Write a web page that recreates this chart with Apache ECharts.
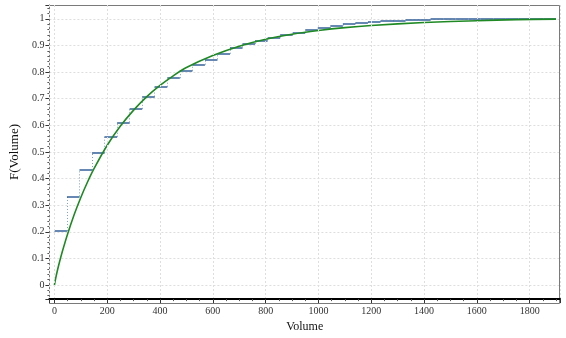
<!DOCTYPE html>
<html>
<head>
<meta charset="utf-8">
<script src="https://cdn.jsdelivr.net/npm/echarts@6/dist/echarts.min.js"></script>
<style>html,body{margin:0;padding:0;background:#fff;}#c{width:566px;height:338px;}</style>
</head>
<body>
<div id="c"></div>
<script>
const binWidth = 47.5;
const stepValues = [
  0.203, 0.333, 0.432, 0.497, 0.557, 0.611, 0.662, 0.708, 0.745, 0.777,
  0.805, 0.828, 0.848, 0.869, 0.893, 0.906, 0.919, 0.930, 0.939, 0.948,
  0.958, 0.965, 0.975, 0.981, 0.985, 0.988, 0.991, 0.994, 0.996, 0.998,
  1.0, 1.0, 1.0, 1.0, 1.0, 1.0, 1.0, 1.0, 1.0, 1.0
];
// Fitted CDF curve
const fitX = [0, 5, 10, 20, 30, 50, 75, 100, 125, 150, 200, 250, 300, 350, 400, 450, 500, 600, 700, 800, 900, 1000, 1100, 1200, 1400, 1600, 1750, 1900];
const fitY = [0, 0.026, 0.049, 0.089, 0.126, 0.192, 0.265, 0.329, 0.386, 0.437, 0.525, 0.597, 0.657, 0.708, 0.750, 0.786, 0.817, 0.862, 0.897, 0.923, 0.942, 0.956, 0.967, 0.975, 0.986, 0.993, 0.997, 0.999];

const xName = 'Volume';
const yName = 'F(Volume)';

const horiz = stepValues.map((v, i) => ({ coords: [[i * binWidth, v], [(i + 1) * binWidth, v]] }));
const vert = [];
for (let i = 1; i < stepValues.length; i++) {
  if (stepValues[i] !== stepValues[i - 1]) {
    vert.push({ coords: [[i * binWidth, stepValues[i - 1]], [i * binWidth, stepValues[i]]] });
  }
}
const fitData = fitX.map((x, i) => [x, fitY[i]]);

const font = "'Liberation Serif', 'DejaVu Serif', serif";
const G = { left: 49, right: 6, top: 5, bottom: 34 };
const chart = echarts.init(document.getElementById('c'), null, { renderer: 'canvas' });
chart.setOption({
  animation: false,
  backgroundColor: '#fff',
  grid: { left: G.left, right: G.right, top: G.top, bottom: G.bottom, show: false },
  graphic: [{
    type: 'rect', z: 100, silent: true,
    shape: { x: G.left + 0.5, y: G.top + 0.5, width: 566 - G.left - G.right - 1, height: 338 - G.top - G.bottom - 1 },
    style: { fill: null, stroke: '#7a7a7a', lineWidth: 1 }
  }],
  xAxis: {
    type: 'value', min: -19, max: 1915, splitNumber: 10,
    name: xName, nameLocation: 'middle', nameGap: 19,
    nameTextStyle: { fontFamily: font, fontSize: 12, color: '#111' },
    axisLine: { show: true, onZero: false, lineStyle: { color: '#000', width: 2 }, z: 110 },
    axisTick: { show: true, inside: false, length: 4, lineStyle: { color: '#333' } },
    minorTick: { show: true, splitNumber: 4, length: 2, lineStyle: { color: '#555' } },
    axisLabel: {
      margin: 7, fontFamily: font, fontSize: 10, color: '#333',
      showMinLabel: false, showMaxLabel: false,
      formatter: v => (Math.abs(v / 200 - Math.round(v / 200)) < 1e-6 ? String(Math.round(v)) : '')
    },
    splitLine: { show: true, lineStyle: { color: '#dedede', type: [2, 2], width: 1 } },
    z: 110
  },
  yAxis: {
    type: 'value', min: -0.053, max: 1.052, splitNumber: 11,
    name: yName, nameLocation: 'middle', nameGap: 23, nameRotate: 90,
    nameTextStyle: { fontFamily: font, fontSize: 13, color: '#111' },
    axisLine: { show: true, onZero: false, lineStyle: { color: '#555', width: 1 } },
    axisTick: { show: true, inside: false, length: 4, lineStyle: { color: '#333' } },
    minorTick: { show: true, splitNumber: 5, length: 2, lineStyle: { color: '#555' } },
    axisLabel: {
      margin: 5, fontFamily: font, fontSize: 10, color: '#333',
      showMinLabel: false, showMaxLabel: false,
      formatter: v => (Math.abs(v * 10 - Math.round(v * 10)) < 1e-6 ? String(+v.toFixed(1)) : '')
    },
    splitLine: { show: true, lineStyle: { color: '#dedede', type: [2, 2], width: 1 } }
  },
  series: [
    {
      type: 'lines', coordinateSystem: 'cartesian2d', silent: true, z: 2,
      lineStyle: { color: '#7f9fc8', width: 1, type: [1, 2], opacity: 1 },
      data: vert
    },
    {
      type: 'lines', coordinateSystem: 'cartesian2d', silent: true, z: 3,
      lineStyle: { color: '#33619a', width: 1.5, opacity: 1 },
      data: horiz
    },
    {
      type: 'line', data: fitData, smooth: 0.3, showSymbol: false, z: 4,
      lineStyle: { color: '#1f8a24', width: 1.6 }
    }
  ]
});
</script>
</body>
</html>
